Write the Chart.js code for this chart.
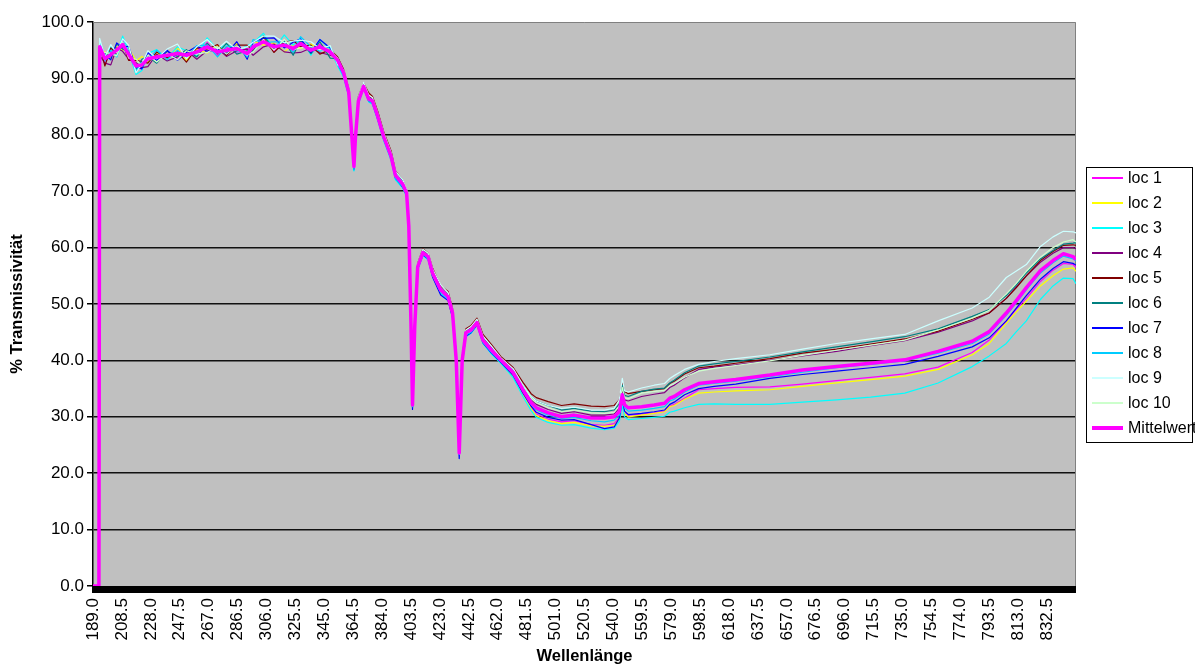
<!DOCTYPE html>
<html><head><meta charset="utf-8">
<script src="https://cdn.jsdelivr.net/npm/chart.js@4.4.1/dist/chart.umd.min.js"></script>
<style>html,body{margin:0;padding:0;background:#fff;overflow:hidden}#wrap{width:1195px;height:666px;position:relative}</style>
</head><body><div id="wrap"><canvas id="c" width="1195" height="666"></canvas></div>
<script>
// Wellenlänge (nm) sample positions
const wavelengths = [
  189, 193, 193.5, 197, 201, 205, 209, 213, 218, 222, 226, 232, 239, 246, 252, 259, 266, 273, 279, 286, 293, 297, 304, 311, 318, 324, 329, 336, 342, 349, 354,
  358, 361.5, 363.5, 365, 366, 368, 371.5, 375, 377.5, 381, 385, 390, 393, 398, 400.5, 402, 403.5, 404.5, 406, 408, 411.5, 415, 418, 423.5, 428.5, 431.5, 434, 436, 438, 440.5, 444, 448, 452, 457.5,
  464, 472.5, 479, 484.5, 488, 496, 505, 513.5, 525, 534, 540.5, 544, 546, 547.5, 550, 559, 567.5, 574.5, 578, 581, 588, 597.5, 608, 622.5, 645.5, 667.5, 690.5, 713.5, 736.5, 759, 782, 793.5, 805, 811.5, 818.5, 828, 836.5, 843.5, 850, 852
];
const xTickValues = [189.0, 208.5, 228.0, 247.5, 267.0, 286.5, 306.0, 325.5, 345.0, 364.5, 384.0, 403.5, 423.0, 442.5, 462.0, 481.5, 501.0, 520.5, 540.0, 559.5, 579.0, 598.5, 618.0, 637.5, 657.0, 676.5, 696.0, 715.5, 735.0, 754.5, 774.0, 793.5, 813.0, 832.5];
const yTickValues = [0, 10, 20, 30, 40, 50, 60, 70, 80, 90, 100];
const seriesNames = ['loc 1', 'loc 2', 'loc 3', 'loc 4', 'loc 5', 'loc 6', 'loc 7', 'loc 8', 'loc 9', 'loc 10', 'Mittelwert'];
const seriesColors = ['#FF00FF', '#FFFF00', '#00FFFF', '#800080', '#800000', '#008080', '#0000FF', '#00CCFF', '#CCFFFF', '#CCFFCC', '#FF00FF'];

const loc1 = [0, 0,
  96.4, 92.5, 94.7, 94.4, 96.9, 93.8, 92.5, 91.6, 94.1, 93.4, 94.8, 93.5, 94.5, 94.4, 96.4, 94.1, 95.5, 94.6, 95.3, 95.2, 96.8, 94.8, 96.5, 94.8, 96.6, 94.3, 96.1, 94.4, 93.4,
  91.2, 87.3, 80.2, 74.6, 79.7, 86.2, 88.4, 86.5, 85.8, 83.5, 79.5, 76.4, 72.6, 71.4, 69.5, 64.0, 46.3, 32.4, 46.2, 56.4, 59.3, 58.2, 55.7, 52.3, 51.5, 48.2, 40.3, 23.9, 40.2, 44.7, 45.6, 46.5, 43.8, 41.7,
  39.8, 37.4, 34.2, 31.7, 30.5, 29.6, 29.1, 29.3, 28.6, 28.5, 28.8, 29.9, 32.9, 30.9, 30.3, 30.5, 30.7, 31.0, 31.9, 32.2, 33.3, 34.8, 35.0, 35.2, 35.3, 35.8, 36.4, 37.0, 37.6, 38.8, 41.4, 43.6, 47.0, 49.0, 51.0, 54.0, 56.0, 57.2, 57.0, 56.5];
const loc2 = [0, 0,
  95.1, 94.7, 93.4, 95.6, 95.0, 95.4, 93.1, 93.9, 92.9, 94.6, 93.4, 95.4, 93.2, 95.2, 94.5, 95.9, 94.6, 96.2, 93.6, 96.6, 95.9, 96.3, 94.7, 95.9, 95.3, 96.1, 95.1, 95.5, 92.9,
  91.4, 88.0, 80.5, 74.9, 80.0, 86.5, 89.0, 87.2, 86.3, 83.0, 80.0, 76.5, 73.0, 71.8, 70.2, 64.2, 46.5, 32.6, 46.5, 56.9, 59.3, 58.6, 55.3, 52.6, 51.0, 48.0, 40.2, 24.0, 39.8, 44.6, 45.2, 46.4, 43.2, 41.5,
  39.6, 37.1, 33.9, 31.4, 30.2, 29.3, 28.8, 29.0, 28.4, 28.3, 28.5, 29.6, 32.6, 30.5, 30.0, 30.3, 30.6, 30.9, 31.8, 32.0, 33.1, 34.2, 34.4, 34.6, 34.8, 35.4, 36.0, 36.6, 37.2, 38.4, 41.0, 43.0, 46.6, 48.5, 50.5, 53.2, 55.0, 56.2, 56.4, 55.8];
const loc3 = [0, 0,
  96.8, 94.0, 95.6, 94.2, 97.5, 94.9, 90.7, 91.4, 94.4, 95.1, 93.6, 95.6, 94.9, 94.0, 97.2, 95.1, 96.1, 94.7, 95.8, 96.3, 98.0, 95.2, 97.7, 95.9, 97.2, 94.1, 96.9, 95.2, 92.2,
  90.2, 86.8, 79.2, 73.6, 78.6, 85.4, 88.2, 85.8, 85.4, 82.6, 79.0, 75.5, 72.0, 70.5, 69.0, 63.0, 45.5, 31.6, 45.5, 56.0, 58.6, 57.8, 55.0, 51.8, 50.8, 47.6, 39.4, 23.2, 39.5, 44.2, 44.8, 46.2, 43.0, 41.2,
  39.5, 36.9, 33.6, 31.1, 29.9, 29.0, 28.5, 28.6, 28.0, 27.7, 28.0, 29.2, 32.0, 30.0, 29.5, 29.7, 29.9, 30.1, 30.8, 31.0, 31.6, 32.2, 32.3, 32.2, 32.2, 32.6, 33.0, 33.5, 34.2, 36.0, 38.9, 40.8, 43.0, 45.0, 47.0, 50.8, 53.2, 54.6, 54.5, 53.6];
const loc4 = [0, 0,
  94.1, 92.7, 92.4, 95.4, 94.8, 93.4, 92.8, 91.9, 92.1, 94.3, 93.1, 93.8, 95.0, 93.4, 94.9, 95.3, 93.9, 94.9, 95.2, 94.1, 95.6, 96.1, 94.7, 94.5, 94.6, 95.4, 94.6, 94.1, 93.7,
  91.3, 87.8, 80.4, 74.8, 80.1, 86.4, 88.9, 86.8, 86.4, 83.8, 80.2, 76.8, 73.3, 71.6, 70.0, 64.1, 46.4, 32.5, 46.4, 56.8, 59.4, 58.7, 55.9, 52.9, 51.6, 48.8, 40.4, 23.9, 40.3, 45.2, 45.8, 47.1, 44.0, 42.3,
  40.2, 38.0, 35.2, 33.0, 32.2, 31.3, 30.6, 30.9, 30.3, 30.3, 30.5, 31.6, 34.8, 33.0, 32.8, 33.6, 34.0, 34.3, 35.2, 35.6, 36.9, 38.4, 38.8, 39.2, 40.0, 40.8, 41.6, 42.6, 43.5, 45.0, 47.0, 48.4, 51.0, 53.0, 55.0, 57.4, 59.0, 60.0, 60.0, 59.8];
const loc5 = [0, 0,
  96.1, 92.2, 95.4, 94.4, 96.4, 93.2, 93.2, 93.0, 92.7, 94.7, 93.6, 94.7, 92.9, 95.4, 95.2, 96.0, 94.1, 95.9, 95.9, 94.9, 97.3, 94.6, 96.4, 96.7, 95.6, 95.9, 94.3, 95.1, 93.8,
  91.6, 88.2, 80.8, 75.0, 80.4, 86.8, 89.2, 87.4, 86.8, 84.2, 80.6, 77.2, 73.6, 71.9, 70.3, 64.5, 46.8, 32.8, 46.8, 57.2, 59.8, 59.0, 56.4, 53.2, 52.2, 49.2, 40.8, 24.2, 40.6, 45.6, 46.2, 47.5, 44.6, 42.9,
  40.7, 38.7, 36.1, 34.1, 33.4, 32.7, 32.0, 32.3, 31.9, 31.8, 32.0, 33.0, 36.2, 34.5, 34.1, 34.5, 34.8, 35.0, 35.9, 36.3, 37.6, 38.7, 39.0, 39.5, 40.3, 41.3, 42.0, 42.9, 43.8, 45.2, 47.3, 48.4, 51.0, 52.8, 55.0, 57.7, 59.3, 60.4, 60.5, 60.4];
const loc6 = [0, 0,
  94.9, 94.4, 93.8, 96.1, 95.2, 94.8, 91.6, 93.4, 93.9, 92.7, 94.8, 93.9, 95.1, 93.8, 96.2, 94.4, 96.2, 94.3, 94.9, 94.8, 97.6, 95.2, 96.7, 94.1, 96.7, 94.4, 96.5, 93.6, 93.5,
  91.1, 87.6, 80.3, 74.7, 79.9, 86.3, 88.8, 86.6, 86.2, 83.6, 80.1, 76.6, 73.4, 71.8, 70.1, 64.0, 46.2, 32.3, 46.3, 56.7, 59.4, 58.6, 55.8, 52.8, 51.6, 48.6, 40.3, 23.8, 40.2, 45.1, 45.7, 47.0, 43.9, 42.2,
  40.4, 38.3, 35.6, 33.6, 32.8, 32.0, 31.2, 31.5, 31.0, 30.9, 31.2, 32.3, 35.6, 33.8, 33.6, 34.5, 34.9, 35.1, 36.0, 36.5, 37.8, 39.0, 39.4, 39.8, 40.6, 41.5, 42.4, 43.3, 44.2, 45.6, 47.8, 49.0, 51.5, 53.3, 55.5, 58.0, 59.5, 60.6, 60.8, 60.9];
const loc7 = [0, 0,
  95.9, 94.2, 93.3, 96.3, 95.5, 95.7, 92.0, 91.7, 94.6, 93.2, 95.0, 93.2, 94.6, 95.7, 94.8, 95.1, 94.4, 96.5, 93.4, 96.5, 97.1, 97.2, 95.4, 96.4, 97.0, 94.6, 96.9, 95.4, 92.6,
  90.6, 87.0, 79.5, 73.9, 79.0, 85.8, 88.3, 86.0, 85.6, 82.8, 79.3, 75.8, 72.3, 70.7, 69.2, 63.2, 45.3, 31.3, 45.4, 56.2, 58.7, 58.0, 54.8, 51.6, 50.6, 47.6, 39.2, 22.6, 39.3, 44.3, 44.9, 46.3, 43.1, 41.4,
  39.7, 37.3, 34.2, 31.9, 30.8, 29.9, 29.4, 29.5, 28.6, 27.9, 28.2, 29.8, 33.0, 31.0, 30.4, 30.6, 30.9, 31.2, 32.2, 32.6, 33.9, 35.0, 35.4, 35.8, 36.8, 37.5, 38.1, 38.7, 39.3, 40.7, 42.4, 44.0, 47.0, 49.2, 51.5, 54.4, 56.3, 57.5, 57.2, 56.9];
const loc8 = [0, 0,
  96.6, 93.1, 95.0, 93.8, 96.6, 94.5, 91.3, 92.9, 93.2, 95.0, 93.3, 95.0, 93.6, 95.8, 95.9, 93.8, 95.7, 95.7, 93.8, 96.9, 96.3, 96.5, 96.4, 94.6, 97.4, 95.6, 94.8, 95.7, 92.8,
  90.4, 86.9, 79.4, 73.7, 78.9, 85.6, 88.4, 85.9, 85.5, 82.8, 79.2, 75.7, 72.2, 70.8, 69.3, 63.3, 45.6, 31.8, 45.6, 56.3, 58.8, 58.1, 55.1, 52.1, 50.9, 48.0, 39.6, 23.3, 39.6, 44.5, 45.0, 46.4, 43.2, 41.5,
  39.9, 37.6, 34.6, 32.2, 31.2, 30.3, 29.7, 29.9, 29.3, 29.1, 29.4, 30.3, 33.3, 31.6, 31.0, 31.2, 31.5, 31.8, 32.8, 33.1, 34.4, 35.6, 35.9, 36.3, 37.1, 37.9, 38.7, 39.3, 39.9, 41.3, 43.0, 44.7, 48.0, 50.1, 52.5, 55.5, 57.3, 58.5, 58.0, 57.6];
const loc9 = [0, 0,
  97.1, 93.8, 96.0, 94.5, 97.0, 95.9, 91.0, 92.6, 94.9, 93.5, 95.2, 96.1, 93.5, 95.6, 96.9, 95.2, 96.6, 95.1, 95.6, 96.4, 97.5, 97.5, 96.3, 96.6, 96.8, 96.5, 95.3, 95.8, 92.4,
  91.5, 88.1, 80.6, 75.2, 80.3, 86.7, 89.3, 87.0, 86.6, 83.9, 80.4, 76.9, 73.5, 72.0, 70.4, 64.4, 46.6, 32.7, 46.7, 57.1, 59.7, 59.0, 56.2, 53.4, 52.0, 49.0, 40.6, 24.1, 40.5, 45.4, 46.0, 47.3, 44.3, 42.6,
  40.5, 38.5, 35.6, 33.6, 32.8, 32.0, 31.5, 31.7, 31.2, 31.2, 31.5, 33.0, 36.8, 34.6, 34.4, 35.1, 35.6, 35.9, 36.8, 37.3, 38.4, 39.3, 39.8, 40.3, 41.0, 42.0, 43.0, 43.8, 44.6, 47.0, 49.3, 51.2, 54.7, 55.8, 57.0, 60.2, 61.9, 62.9, 62.8, 62.6];
const loc10 = [0, 0,
  94.7, 94.6, 94.4, 94.0, 96.5, 93.6, 93.4, 92.2, 94.1, 92.9, 94.4, 93.3, 94.9, 94.3, 94.6, 95.6, 94.3, 95.8, 94.1, 94.7, 96.9, 95.0, 96.9, 95.1, 95.4, 95.7, 95.1, 95.0, 93.6,
  91.2, 87.7, 80.1, 74.5, 79.8, 86.1, 88.7, 86.5, 86.1, 83.5, 79.9, 76.5, 73.1, 71.5, 69.9, 63.9, 46.1, 32.2, 46.1, 56.6, 59.2, 58.5, 55.6, 52.7, 51.4, 48.5, 40.1, 23.7, 40.1, 45.0, 45.6, 46.9, 43.8, 42.0,
  40.3, 38.1, 35.4, 33.3, 32.5, 31.6, 30.9, 31.2, 30.7, 30.6, 30.8, 31.9, 35.2, 33.4, 33.2, 34.2, 34.5, 34.7, 35.5, 35.9, 37.0, 38.1, 38.6, 39.1, 39.9, 40.9, 41.8, 42.7, 43.6, 45.4, 47.5, 48.9, 51.8, 53.6, 55.8, 58.3, 60.0, 61.0, 61.4, 61.0];
const mittelwert = [0, 0,
  95.6, 93.5, 94.2, 95.0, 96.0, 94.3, 92.2, 92.4, 93.5, 93.8, 94.1, 94.4, 94.1, 94.7, 95.6, 94.7, 95.0, 95.3, 94.4, 95.6, 96.5, 95.6, 95.9, 95.3, 96.2, 95.0, 95.6, 94.7, 93.2,
  91.0, 87.5, 80.0, 74.4, 79.5, 86.0, 88.6, 86.3, 86.0, 83.3, 79.7, 76.2, 72.8, 71.2, 69.7, 63.8, 46.0, 32.1, 46.0, 56.6, 59.1, 58.4, 55.5, 52.5, 51.3, 48.4, 40.0, 23.6, 40.0, 44.9, 45.4, 46.7, 43.6, 41.9,
  40.1, 37.8, 34.8, 32.5, 31.6, 30.7, 30.0, 30.3, 29.8, 29.8, 30.0, 30.9, 33.9, 32.1, 31.6, 31.8, 32.1, 32.4, 33.3, 33.6, 34.8, 35.9, 36.2, 36.6, 37.4, 38.3, 38.9, 39.5, 40.1, 41.6, 43.4, 45.1, 48.4, 50.5, 52.9, 55.9, 57.7, 58.9, 58.4, 57.9];

const seriesValues = [loc1, loc2, loc3, loc4, loc5, loc6, loc7, loc8, loc9, loc10, mittelwert];

const FONT = '"Liberation Sans", Arial, sans-serif';

const datasets = seriesValues.map((vals, i) => {
  const isMean = i === seriesValues.length - 1;
  return {
    label: seriesNames[i],
    data: wavelengths.map((w, k) => ({x: w, y: vals[k]})),
    borderColor: seriesColors[i],
    backgroundColor: seriesColors[i],
    borderWidth: isMean ? 3.5 : 1.2,
    pointRadius: 0,
    tension: 0,
    fill: false,
    order: isMean ? 0 : 20 - i,
    borderJoinStyle: 'round'
  };
});

const plotDecor = {
  id: 'plotDecor',
  beforeDraw(chart) {
    const {ctx, chartArea: a} = chart;
    ctx.save();
    ctx.fillStyle = '#C0C0C0';
    ctx.fillRect(a.left, a.top, a.right - a.left, a.bottom - a.top);
    ctx.restore();
  },
  beforeDatasetsDraw(chart) {
    const {ctx, chartArea: a} = chart;
    ctx.save();
    ctx.strokeStyle = '#808080';
    ctx.lineWidth = 1;
    ctx.beginPath();
    ctx.moveTo(a.left, a.top + 0.5);
    ctx.lineTo(a.right - 0.5, a.top + 0.5);
    ctx.lineTo(a.right - 0.5, a.bottom);
    ctx.stroke();
    ctx.fillStyle = '#000';
    ctx.fillRect(a.left - 1, a.bottom, a.right - a.left + 1, 7);
    ctx.restore();
  }
};

const boxLegend = {
  id: 'boxLegend',
  afterDraw(chart) {
    const {ctx} = chart;
    const box = {left: 1086, top: 167, right: 1192, bottom: 442};
    const firstY = 178, step = 25, x0 = 1092, x1 = 1123, tx = 1128;
    ctx.save();
    ctx.fillStyle = '#fff';
    ctx.fillRect(box.left, box.top, box.right - box.left, box.bottom - box.top);
    ctx.strokeStyle = '#000';
    ctx.lineWidth = 1;
    ctx.strokeRect(box.left + 0.5, box.top + 0.5, box.right - box.left, box.bottom - box.top);
    ctx.font = '16px ' + FONT;
    ctx.textBaseline = 'middle';
    ctx.textAlign = 'left';
    chart.data.datasets.forEach((ds, i) => {
      const y = firstY + i * step;
      ctx.strokeStyle = ds.borderColor;
      ctx.lineWidth = ds.borderWidth > 2 ? 4 : 2;
      ctx.beginPath();
      ctx.moveTo(x0, y);
      ctx.lineTo(x1, y);
      ctx.stroke();
      ctx.fillStyle = '#000';
      ctx.fillText(ds.label, tx, y + 1);
    });
    ctx.restore();
  }
};

new Chart(document.getElementById('c'), {
  type: 'line',
  data: {datasets},
  options: {
    responsive: false,
    animation: false,
    devicePixelRatio: 1,
    layout: {padding: {left: 0, top: 22, right: 119, bottom: 0}},
    plugins: {legend: {display: false}, tooltip: {enabled: false}},
    scales: {
      x: {
        type: 'linear',
        min: 189,
        max: 852,
        afterBuildTicks: (s) => { s.ticks = xTickValues.map(v => ({value: v})); },
        afterFit: (s) => { s.height = 80; },
        grid: {display: false, drawTicks: false},
        border: {display: false},
        ticks: {
          autoSkip: false, maxRotation: 90, minRotation: 90, padding: 12,
          color: '#000', font: {family: FONT, size: 17},
          callback: (v) => Number(v).toFixed(1)
        },
        title: {display: true, text: 'Wellenlänge', color: '#000', font: {family: FONT, size: 16.5, weight: 'bold'}, padding: {top: 0, bottom: 0}}
      },
      y: {
        min: 0,
        max: 100,
        afterBuildTicks: (s) => { s.ticks = yTickValues.map(v => ({value: v})); },
        afterFit: (s) => { s.width = 93; },
        grid: {
          color: (c) => (c.tick && (c.tick.value === 100 || c.tick.value === 0)) ? 'rgba(0,0,0,0)' : '#111',
          lineWidth: 1.5,
          tickLength: 6,
          tickColor: '#000',
          tickWidth: 1.5
        },
        border: {display: true, color: '#000', width: 1.5},
        ticks: {
          padding: 3, color: '#000', font: {family: FONT, size: 17},
          callback: (v) => Number(v).toFixed(1)
        },
        title: {display: true, text: '% Transmissivität', color: '#000', font: {family: FONT, size: 16.5, weight: 'bold'}, padding: {top: 8, bottom: 0}}
      }
    }
  },
  plugins: [plotDecor, boxLegend]
});
</script>
</body></html>
